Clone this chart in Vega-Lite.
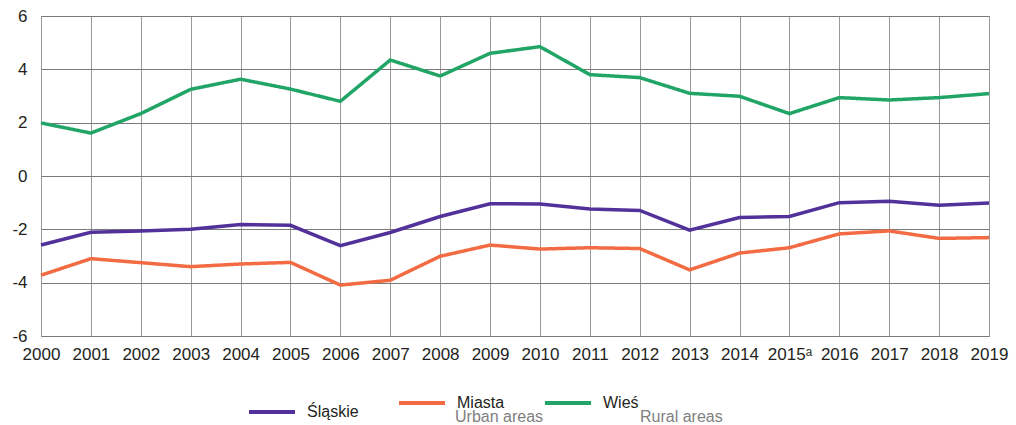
{
  "$schema": "https://vega.github.io/schema/vega-lite/v6.json",
  "autosize": {"type": "none"},
  "padding": {"left": 41, "top": 16, "right": 27, "bottom": 89},
  "width": 948,
  "height": 320,
  "background": "white",
  "config": {
    "font": "Liberation Sans",
    "view": {"stroke": "#8a8a8a", "strokeWidth": 1},
    "axis": {"labelFont": "Liberation Sans", "labelFontSize": 17, "labelColor": "#231f20"}
  },
  "data": {
    "values": [
      {"year": 2000, "series": "Śląskie", "sub": "", "value": -2.59},
      {"year": 2001, "series": "Śląskie", "sub": "", "value": -2.11},
      {"year": 2002, "series": "Śląskie", "sub": "", "value": -2.06},
      {"year": 2003, "series": "Śląskie", "sub": "", "value": -2.0},
      {"year": 2004, "series": "Śląskie", "sub": "", "value": -1.82},
      {"year": 2005, "series": "Śląskie", "sub": "", "value": -1.85},
      {"year": 2006, "series": "Śląskie", "sub": "", "value": -2.61},
      {"year": 2007, "series": "Śląskie", "sub": "", "value": -2.12},
      {"year": 2008, "series": "Śląskie", "sub": "", "value": -1.52},
      {"year": 2009, "series": "Śląskie", "sub": "", "value": -1.04},
      {"year": 2010, "series": "Śląskie", "sub": "", "value": -1.05},
      {"year": 2011, "series": "Śląskie", "sub": "", "value": -1.24},
      {"year": 2012, "series": "Śląskie", "sub": "", "value": -1.29},
      {"year": 2013, "series": "Śląskie", "sub": "", "value": -2.03},
      {"year": 2014, "series": "Śląskie", "sub": "", "value": -1.56},
      {"year": 2015, "series": "Śląskie", "sub": "", "value": -1.52},
      {"year": 2016, "series": "Śląskie", "sub": "", "value": -1.0},
      {"year": 2017, "series": "Śląskie", "sub": "", "value": -0.95},
      {"year": 2018, "series": "Śląskie", "sub": "", "value": -1.1},
      {"year": 2019, "series": "Śląskie", "sub": "", "value": -1.01},
      {"year": 2000, "series": "Miasta", "sub": "Urban areas", "value": -3.72},
      {"year": 2001, "series": "Miasta", "sub": "Urban areas", "value": -3.1},
      {"year": 2002, "series": "Miasta", "sub": "Urban areas", "value": -3.25},
      {"year": 2003, "series": "Miasta", "sub": "Urban areas", "value": -3.4},
      {"year": 2004, "series": "Miasta", "sub": "Urban areas", "value": -3.3},
      {"year": 2005, "series": "Miasta", "sub": "Urban areas", "value": -3.24},
      {"year": 2006, "series": "Miasta", "sub": "Urban areas", "value": -4.09},
      {"year": 2007, "series": "Miasta", "sub": "Urban areas", "value": -3.91},
      {"year": 2008, "series": "Miasta", "sub": "Urban areas", "value": -3.01},
      {"year": 2009, "series": "Miasta", "sub": "Urban areas", "value": -2.59},
      {"year": 2010, "series": "Miasta", "sub": "Urban areas", "value": -2.74},
      {"year": 2011, "series": "Miasta", "sub": "Urban areas", "value": -2.69},
      {"year": 2012, "series": "Miasta", "sub": "Urban areas", "value": -2.72},
      {"year": 2013, "series": "Miasta", "sub": "Urban areas", "value": -3.52},
      {"year": 2014, "series": "Miasta", "sub": "Urban areas", "value": -2.89},
      {"year": 2015, "series": "Miasta", "sub": "Urban areas", "value": -2.69},
      {"year": 2016, "series": "Miasta", "sub": "Urban areas", "value": -2.17},
      {"year": 2017, "series": "Miasta", "sub": "Urban areas", "value": -2.06},
      {"year": 2018, "series": "Miasta", "sub": "Urban areas", "value": -2.34},
      {"year": 2019, "series": "Miasta", "sub": "Urban areas", "value": -2.31},
      {"year": 2000, "series": "Wieś", "sub": "Rural areas", "value": 1.99},
      {"year": 2001, "series": "Wieś", "sub": "Rural areas", "value": 1.61},
      {"year": 2002, "series": "Wieś", "sub": "Rural areas", "value": 2.34},
      {"year": 2003, "series": "Wieś", "sub": "Rural areas", "value": 3.25},
      {"year": 2004, "series": "Wieś", "sub": "Rural areas", "value": 3.63},
      {"year": 2005, "series": "Wieś", "sub": "Rural areas", "value": 3.26},
      {"year": 2006, "series": "Wieś", "sub": "Rural areas", "value": 2.8},
      {"year": 2007, "series": "Wieś", "sub": "Rural areas", "value": 4.35},
      {"year": 2008, "series": "Wieś", "sub": "Rural areas", "value": 3.75},
      {"year": 2009, "series": "Wieś", "sub": "Rural areas", "value": 4.6},
      {"year": 2010, "series": "Wieś", "sub": "Rural areas", "value": 4.85},
      {"year": 2011, "series": "Wieś", "sub": "Rural areas", "value": 3.8},
      {"year": 2012, "series": "Wieś", "sub": "Rural areas", "value": 3.69},
      {"year": 2013, "series": "Wieś", "sub": "Rural areas", "value": 3.1},
      {"year": 2014, "series": "Wieś", "sub": "Rural areas", "value": 2.99},
      {"year": 2015, "series": "Wieś", "sub": "Rural areas", "value": 2.34},
      {"year": 2016, "series": "Wieś", "sub": "Rural areas", "value": 2.94},
      {"year": 2017, "series": "Wieś", "sub": "Rural areas", "value": 2.85},
      {"year": 2018, "series": "Wieś", "sub": "Rural areas", "value": 2.94},
      {"year": 2019, "series": "Wieś", "sub": "Rural areas", "value": 3.09}
    ]
  },
  "mark": {"type": "line", "strokeWidth": 3.5, "strokeJoin": "miter"},
  "encoding": {
    "x": {
      "field": "year",
      "type": "ordinal",
      "scale": {"type": "point", "padding": 0},
      "axis": {
        "title": null,
        "labelAngle": 0,
        "domain": false,
        "ticks": false,
        "labelPadding": 10,
        "grid": true,
        "gridColor": "#999999",
        "gridWidth": 1,
        "labelExpr": "datum.value == 2015 ? '2015ᵃ' : datum.label"
      }
    },
    "y": {
      "field": "value",
      "type": "quantitative",
      "scale": {"domain": [-6, 6], "nice": false},
      "axis": {
        "title": null,
        "values": [-6, -4, -2, 0, 2, 4, 6],
        "domain": false,
        "ticks": false,
        "labelPadding": 14,
        "grid": true,
        "gridColor": "#7a7a7a",
        "gridWidth": 1,
        "labelExpr": "toString(datum.value)"
      }
    },
    "color": {
      "field": "series",
      "type": "nominal",
      "scale": {
        "domain": ["Śląskie", "Miasta", "Wieś"],
        "range": ["#52329a", "#f26b43", "#21a567"]
      },
      "legend": {
        "title": null,
        "orient": "none",
        "direction": "horizontal",
        "legendX": 206,
        "legendY": 362,
        "padding": 0,
        "symbolType": "stroke",
        "symbolSize": 2116,
        "symbolStrokeWidth": 4,
        "labelOffset": 10,
        "columnPadding": 32,
        "labelFont": "Liberation Sans",
        "labelFontSize": 16,
        "labelColor": "#231f20",
        "labelLimit": 200,
        "labelExpr": "datum.label == 'Śląskie' ? datum.label : [datum.label, '                            ']",
        "encode": {"labels": {"update": {"lineHeight": {"value": 18}}}}
      }
    },
    "strokeDash": {
      "field": "sub",
      "type": "nominal",
      "scale": {
        "domain": ["Urban areas", "Rural areas"],
        "range": [[1, 0], [1, 0]]
      },
      "legend": {
        "title": null,
        "orient": "none",
        "direction": "horizontal",
        "legendX": 358,
        "legendY": 378,
        "padding": 0,
        "symbolType": "stroke",
        "symbolSize": 2116,
        "symbolStrokeWidth": 0,
        "symbolOpacity": 0,
        "labelOffset": 10,
        "columnPadding": 40,
        "labelFont": "Liberation Sans",
        "labelFontSize": 16,
        "labelColor": "#808080",
        "labelLimit": 200
      }
    }
  }
}
